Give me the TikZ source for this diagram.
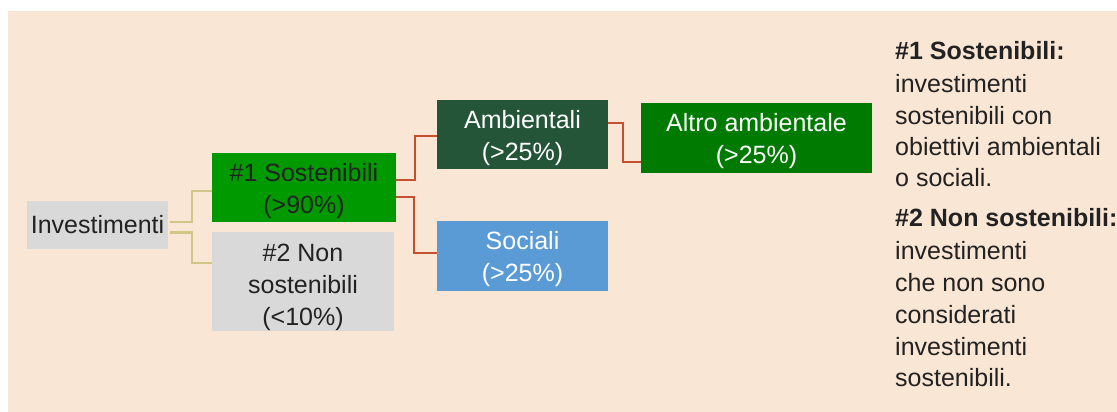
\documentclass[tikz,border=0pt]{standalone}
\usepackage{fontspec}
\setmainfont{Liberation Sans}
\definecolor{bg}{HTML}{F9E6D4}
\definecolor{boxgray}{HTML}{D9D9D9}
\definecolor{greenA}{HTML}{009900}
\definecolor{greenB}{HTML}{007A00}
\definecolor{greenDark}{HTML}{255539}
\definecolor{blueS}{HTML}{5B9BD5}
\definecolor{lineY}{HTML}{D2C585}
\definecolor{lineR}{HTML}{C5502E}
\definecolor{txt}{HTML}{222222}
\newcommand\topgap[1]{\rule{0pt}{#1}}
\begin{document}
\begin{tikzpicture}[x=1pt,y=-1pt,
  box/.style={inner sep=0pt, outer sep=0pt, align=center, font=\fontsize{25}{32}\selectfont},
  darkbox/.style={box, text=txt},
  lightbox/.style={box, text=white},
  ycon/.style={draw=lineY, line width=2.2pt},
  rcon/.style={draw=lineR, line width=2.2pt},
  legline/.style={anchor=base west, inner sep=0pt, text=txt, font=\fontsize{25}{32}\selectfont}]
\useasboundingbox (0,0) rectangle (1117,412);
\fill[white] (0,0) rectangle (1117,412);
\fill[bg] (8,11) rectangle (1117,412);

\node[darkbox, fill=boxgray, minimum width=141pt, minimum height=48pt] (inv) at (97.5,225) {Investimenti};
\node[darkbox, fill=greenA, minimum width=184pt, minimum height=69pt] (s1) at (304,187.5) {\topgap{26pt}\#1 Sostenibili\\(>90\%)};
\node[darkbox, fill=boxgray, minimum width=182pt, minimum height=97pt] (s2) at (303,281.5) {\topgap{29pt}\#2 Non\\sostenibili\\(<10\%)};
\node[lightbox, fill=greenDark, minimum width=171pt, minimum height=69pt] (amb) at (522.5,134.5) {\topgap{26pt}Ambientali\\(>25\%)};
\node[lightbox, fill=greenB, minimum width=231pt, minimum height=70pt] (altro) at (756.5,138) {\topgap{25pt}Altro ambientale\\(>25\%)};
\node[lightbox, fill=blueS, minimum width=171pt, minimum height=70pt] (soc) at (522.5,256) {\topgap{25pt}Sociali\\(>25\%)};

\draw[ycon] ([xshift=2pt,yshift=3pt]inv.east) -- ++(22,0) |- ([yshift=-3.5pt]s1.west);
\draw[ycon] ([xshift=2pt,yshift=-7.5pt]inv.east) -- ++(22,0) |- ([yshift=18.5pt]s2.west);
\draw[rcon] ([yshift=7.5pt]s1.east) -- ++(19,0) |- ([yshift=-1.5pt]amb.west);
\draw[rcon] ([yshift=-9.5pt]s1.east) -- ++(18,0) |- ([yshift=3pt]soc.west);
\draw[rcon] ([yshift=11.5pt]amb.east) -- ++(15,0) |- ([yshift=-24pt]altro.west);

\begin{scope}
\clip (0,0) rectangle (1117,412);
\node[legline] (l1) at (895,59.3) {\textbf{\#1 Sostenibili:}};
\node[legline] (l2) at (895,92.3) {investimenti};
\node[legline] (l3) at (895,124.3) {sostenibili con};
\node[legline] (l4) at (895,155.5) {obiettivi ambientali};
\node[legline] (l5) at (895,186.7) {o sociali.};
\node[legline] (l6) at (895,226.7) {\textbf{\#2 Non sostenibili:}};
\node[legline] (l7) at (895,259.5) {investimenti};
\node[legline] (l8) at (895,291.5) {che non sono};
\node[legline] (l9) at (895,323) {considerati};
\node[legline] (l10) at (895,355) {investimenti};
\node[legline] (l11) at (895,386.7) {sostenibili.};
\end{scope}
\end{tikzpicture}
\end{document}
